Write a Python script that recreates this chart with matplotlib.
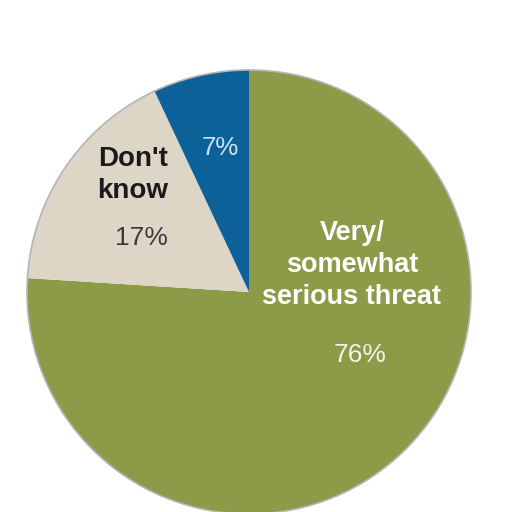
import matplotlib
matplotlib.use("Agg")
import matplotlib.pyplot as plt
from matplotlib.patches import Circle

# --- data ---------------------------------------------------------------------
labels = ["Very/\nsomewhat\nserious threat", "Don't\nknow", ""]
values = [76, 17, 7]
pct_labels = ["76%", "17%", "7%"]
colors = ["#8d9b48", "#ddd6c7", "#0b6198"]

plt.rcParams["font.family"] = ["Liberation Sans", "DejaVu Sans"]

fig = plt.figure(figsize=(5.12, 5.12), dpi=100)
ax = fig.add_axes([0, 0, 1, 1])

CX, CY, R = 249, 512 - 292, 222
ax.pie(values, colors=colors, startangle=90, counterclock=False,
       center=(CX, CY), radius=R, frame=True,
       wedgeprops=dict(linewidth=0))
ax.add_patch(Circle((CX, CY), R, fc="none", ec="#b5b5b5", lw=1.2, zorder=3))
ax.set_xlim(0, 512); ax.set_ylim(0, 512); ax.set_aspect("equal"); ax.axis("off")

# labels (pixel coords, y flipped)
ax.text(352, 512 - 265, labels[0], ha="center", va="center", color="white",
        fontsize=19.5, fontweight="bold", linespacing=1.32, zorder=4)
ax.text(360, 512 - 355, pct_labels[0], ha="center", va="center", color="#f4f4ec",
        fontsize=19, zorder=4)
ax.text(133, 512 - 175, labels[1], ha="center", va="center", color="#1a1a1a",
        fontsize=20, fontweight="bold", linespacing=1.34, zorder=4)
ax.text(141, 512 - 238, pct_labels[1], ha="center", va="center", color="#3a3a3a",
        fontsize=19, zorder=4)
ax.text(220, 512 - 148, pct_labels[2], ha="center", va="center", color="#cfe3f0",
        fontsize=18.5, zorder=4)

fig.savefig("out.png", dpi=100, facecolor="white")
